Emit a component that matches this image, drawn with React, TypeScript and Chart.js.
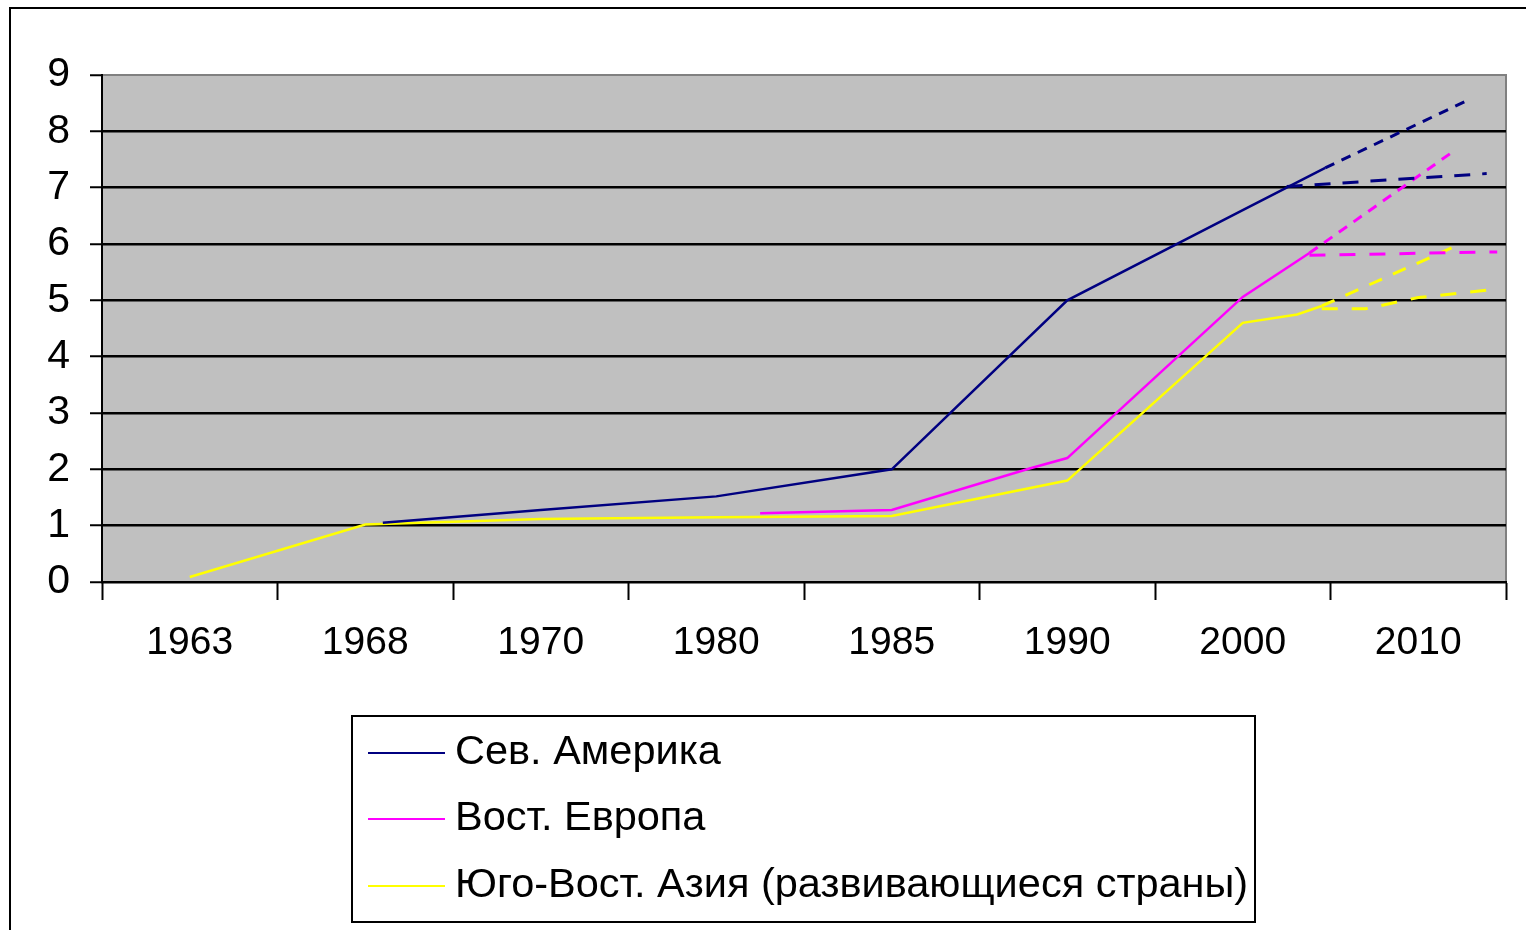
import React, { useEffect, useRef } from "react";
import { Chart, registerables } from "chart.js";

Chart.register(...registerables);

// Category labels (x axis positions are category indices, fractional where the line bends between years)
const years = ["1963", "1968", "1970", "1980", "1985", "1990", "2000", "2010"];
const yTicks = [0, 1, 2, 3, 4, 5, 6, 7, 8, 9];

const seriesNames = ["Сев. Америка", "Вост. Европа", "Юго-Вост. Азия (развивающиеся страны)"];
const seriesColors = ["#000080", "#ff00ff", "#ffff00"];

// Сев. Америка
const naX = [1.1, 2, 3, 4, 5, 6, 6.47];
const naY = [1.05, 1.28, 1.52, 2.0, 5.0, 6.6, 7.35];
const naHighX = [6.47, 7.3];
const naHighY = [7.35, 8.58];
const naFlatX = [6.25, 7.39];
const naFlatY = [7.02, 7.25];

// Вост. Европа
const eeX = [3.25, 4, 4.79, 5, 6, 6.38];
const eeY = [1.22, 1.28, 2.02, 2.2, 5.06, 5.84];
const eeHighX = [6.38, 7.18];
const eeHighY = [5.84, 7.6];
const eeFlatX = [6.38, 7.45];
const eeFlatY = [5.8, 5.86];

// Юго-Вост. Азия
const seaX = [0, 1, 2, 3, 4, 5, 6, 6.31, 6.45];
const seaY = [0.09, 1.02, 1.12, 1.15, 1.17, 1.8, 4.6, 4.75, 4.9];
const seaHighX = [6.45, 7.19];
const seaHighY = [4.9, 5.93];
const seaLowX = [6.45, 6.7, 7.0, 7.45];
const seaLowY = [4.85, 4.85, 5.05, 5.2];

const FONT = '"Liberation Sans", Arial, sans-serif';

const pts = (xs: number[], ys: number[]) => xs.map((x, i) => ({ x, y: ys[i] }));

export default function App() {
  const ref = useRef<HTMLCanvasElement | null>(null);

  useEffect(() => {
    if (!ref.current) return;

    const bgPlugin = {
      id: "bg",
      beforeDraw(chart: any) {
        const { ctx, chartArea: a } = chart;
        ctx.save();
        ctx.fillStyle = "#ffffff";
        ctx.fillRect(0, 0, chart.width, chart.height);
        ctx.fillStyle = "#c0c0c0";
        ctx.fillRect(a.left, a.top, a.right - a.left, a.bottom - a.top);
        ctx.strokeStyle = "#808080";
        ctx.lineWidth = 2;
        ctx.beginPath();
        ctx.moveTo(a.left, a.top);
        ctx.lineTo(a.right, a.top);
        ctx.lineTo(a.right, a.bottom);
        ctx.stroke();
        ctx.restore();
      },
      afterDraw(chart: any) {
        const { ctx } = chart;
        ctx.save();
        // outer frame
        ctx.strokeStyle = "#000";
        ctx.lineWidth = 2;
        ctx.strokeRect(10, 8, 1700, 1000);
        // legend
        const bx = 352, by = 716, bw = 903, bh = 206;
        ctx.fillStyle = "#fff";
        ctx.fillRect(bx, by, bw, bh);
        ctx.strokeRect(bx, by, bw, bh);
        const rows = [753, 819, 886];
        ctx.font = `41.5px ${FONT}`;
        ctx.textBaseline = "middle";
        ctx.textAlign = "left";
        seriesNames.forEach((name, i) => {
          ctx.strokeStyle = seriesColors[i];
          ctx.lineWidth = 2;
          ctx.beginPath();
          ctx.moveTo(368, rows[i]);
          ctx.lineTo(445, rows[i]);
          ctx.stroke();
          ctx.fillStyle = "#000";
          ctx.fillText(name, 455, rows[i]);
        });
        ctx.restore();
      },
    };

    const solid = (label: string, color: string, xs: number[], ys: number[]) => ({
      label,
      data: pts(xs, ys),
      borderColor: color,
      backgroundColor: color,
      borderWidth: 2.5,
      pointRadius: 0,
      tension: 0,
      fill: false,
    });
    const dashed = (label: string, color: string, xs: number[], ys: number[], dash: number[]) => ({
      ...solid(label, color, xs, ys),
      borderWidth: 3,
      borderDash: dash,
    });

    const chart = new Chart(ref.current, {
      type: "line",
      data: {
        datasets: [
          solid(seriesNames[0], seriesColors[0], naX, naY),
          dashed(seriesNames[0] + " (прогноз 1)", seriesColors[0], naHighX, naHighY, [10, 8]),
          dashed(seriesNames[0] + " (прогноз 2)", seriesColors[0], naFlatX, naFlatY, [16, 12]),
          solid(seriesNames[1], seriesColors[1], eeX, eeY),
          dashed(seriesNames[1] + " (прогноз 1)", seriesColors[1], eeHighX, eeHighY, [10, 8]),
          dashed(seriesNames[1] + " (прогноз 2)", seriesColors[1], eeFlatX, eeFlatY, [16, 14]),
          solid(seriesNames[2], seriesColors[2], seaX, seaY),
          dashed(seriesNames[2] + " (прогноз 1)", seriesColors[2], seaHighX, seaHighY, [14, 12]),
          dashed(seriesNames[2] + " (прогноз 2)", seriesColors[2], seaLowX, seaLowY, [16, 14]),
        ],
      },
      options: {
        responsive: false,
        animation: false,
        layout: { padding: { left: 0, top: 75, right: 17, bottom: 0 } },
        plugins: { legend: { display: false }, tooltip: { enabled: false } },
        scales: {
          x: {
            type: "linear",
            min: -0.5,
            max: 7.5,
            afterFit: (s: any) => {
              s.height = 348;
            },
            afterBuildTicks: (s: any) => {
              const t = [];
              for (let v = -0.5; v <= 7.5 + 1e-9; v += 0.5) t.push({ value: v });
              s.ticks = t;
            },
            ticks: {
              autoSkip: false,
              maxRotation: 0,
              padding: 20,
              color: "#000",
              font: { family: FONT, size: 39 },
              callback: (v: any) => {
                const n = Number(v);
                return Number.isInteger(n) && n >= 0 && n < years.length ? years[n] : "";
              },
            },
            grid: {
              drawOnChartArea: false,
              drawTicks: true,
              tickLength: 18,
              tickWidth: 2,
              tickColor: (c: any) => (c.tick && Number.isInteger(c.tick.value) ? "rgba(0,0,0,0)" : "#000"),
            },
            border: { display: true, color: "#000", width: 2 },
          },
          y: {
            type: "linear",
            min: yTicks[0],
            max: yTicks[yTicks.length - 1],
            afterFit: (s: any) => {
              s.width = 102;
            },
            ticks: {
              stepSize: 1,
              padding: 20,
              color: "#000",
              font: { family: FONT, size: 41 },
            },
            grid: {
              color: (c: any) => (c.tick && c.tick.value === 9 ? "rgba(0,0,0,0)" : "#000"),
              lineWidth: 2.5,
              drawTicks: true,
              tickLength: 12,
              tickColor: "#000",
              tickWidth: 2,
            },
            border: { display: true, color: "#000", width: 2 },
          },
        },
      },
      plugins: [bgPlugin],
    } as any);

    return () => chart.destroy();
  }, []);

  return (
    <div style={{ position: "fixed", left: 0, top: 0, width: 1526, height: 930, background: "#fff" }}>
      <canvas ref={ref} width={1526} height={930} />
    </div>
  );
}
